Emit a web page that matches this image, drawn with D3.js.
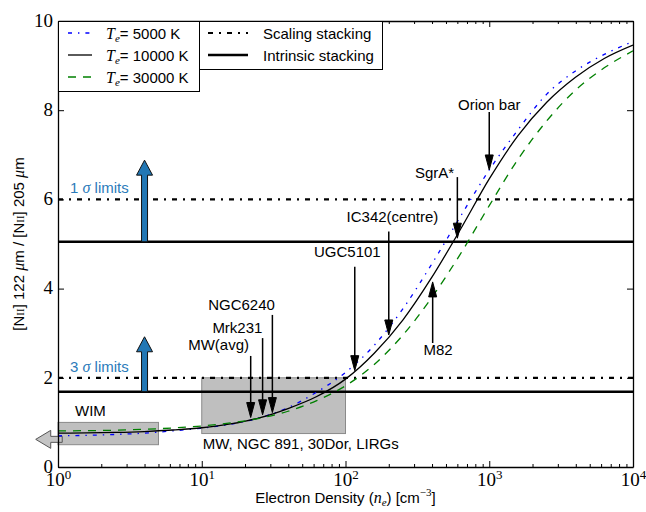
<!DOCTYPE html>
<html><head><meta charset="utf-8">
<script src="https://cdn.jsdelivr.net/npm/d3@7/dist/d3.min.js"></script>
<style>body{margin:0;background:#fff}svg{display:block}</style>
</head><body>
<svg id="c" width="646" height="512"></svg>
<script>
// ---------- data ----------
const density = [1, 1.585, 2.512, 3.981, 6.31, 10, 15.85, 25.12, 39.81, 63.1, 100, 158.5, 251.2, 398.1, 631, 1000, 1585, 2512, 3981, 6310, 10000];
const ratioBlue  = [0.70, 0.71, 0.73, 0.76, 0.81, 0.87, 0.96, 1.10, 1.33, 1.68, 2.12, 2.73, 3.55, 4.55, 5.62, 6.66, 7.56, 8.36, 8.88, 9.25, 9.54];
const ratioBlack = [0.76, 0.765, 0.775, 0.795, 0.83, 0.88, 0.965, 1.10, 1.31, 1.58, 1.97, 2.55, 3.30, 4.25, 5.33, 6.46, 7.43, 8.18, 8.74, 9.16, 9.46];
const ratioGreen = [0.81, 0.815, 0.825, 0.845, 0.875, 0.92, 0.99, 1.09, 1.25, 1.49, 1.82, 2.30, 2.96, 3.80, 4.78, 5.86, 6.90, 7.76, 8.45, 8.95, 9.33];

const seriesNames = ["5000 K", "10000 K", "30000 K"];

const scalingLevels   = [6.0, 2.0];    // scaling stacking (1 sigma, 3 sigma)
const intrinsicLevels = [5.05, 1.69];  // intrinsic stacking
const limitArrowDensity = 4;
const limitArrowTips = [6.88, 2.92];
const limitLabels = ["1", "3"];

const boxDensLo = [1, 10], boxDensHi = [5, 100];
const boxRatioLo = [0.5, 0.75], boxRatioHi = [1.0, 2.0];
const wimArrowDens = [1.07, 0.70], wimArrowRatio = 0.62;

const annotNames   = ["Orion bar", "SgrA*", "IC342(centre)", "UGC5101", "NGC6240", "Mrk231", "MW(avg)", "M82"];
const annotDensity = [1000, 600, 200, 116, 31, 26.5, 21.9, 404];
const annotTip     = [6.66, 5.13, 2.96, 2.16, 1.22, 1.17, 1.11, 4.15];
const annotTail    = [7.96, 6.50, 5.28, 4.49, 3.41, 2.89, 2.49, 2.78];
const annotTextDens = [1000, 416, 212, 103, 18.9, 17.7, 13.1, 440];
const annotTextRatio = [8.0, 6.48, 5.5, 4.70, 3.52, 3.0, 2.62, 2.51];

const xMajor = [1, 10, 100, 1000, 10000];
const xExp = [0, 1, 2, 3, 4];
const yMajor = [0, 2, 4, 6, 8, 10];

// ---------- layout ----------
const svg = d3.select("#c");
const L = 58, R = 633, T = 21, B = 467;
const x = d3.scaleLog().domain([1, 1e4]).range([L, R]);
const y = d3.scaleLinear().domain([0, 10]).range([B, T]);
const SANS = "'Liberation Sans', Arial, sans-serif";
const SERIF2 = "'Liberation Serif', serif";

svg.append("defs").append("clipPath").attr("id", "clip")
  .append("rect").attr("x", L).attr("y", T).attr("width", R - L).attr("height", B - T);

// gray boxes
const boxes = svg.append("g");
boxDensLo.forEach((d, i) => {
  boxes.append("rect")
    .attr("x", x(d)).attr("y", y(boxRatioHi[i]))
    .attr("width", x(boxDensHi[i]) - x(d))
    .attr("height", y(boxRatioLo[i]) - y(boxRatioHi[i]))
    .attr("fill", "#bfbfbf").attr("stroke", "#8a8a8a").attr("stroke-width", 1);
});

// WIM arrow (pointing left)
{
  const x0 = x(wimArrowDens[0]), x1 = x(wimArrowDens[1]), yy = y(wimArrowRatio);
  const hl = 15, sw = 3, hw = 9;
  const p = [[x0, yy - sw], [x1 + hl, yy - sw], [x1 + hl, yy - hw], [x1, yy], [x1 + hl, yy + hw], [x1 + hl, yy + sw], [x0, yy + sw]];
  svg.append("path").attr("d", "M" + p.join("L") + "Z")
    .attr("fill", "#c4c4c4").attr("stroke", "#555").attr("stroke-width", 1);
}

// horizontal stacking lines
const hl = svg.append("g");
scalingLevels.forEach(v => hl.append("line")
  .attr("x1", L).attr("x2", R).attr("y1", y(v)).attr("y2", y(v))
  .attr("stroke", "#000").attr("stroke-width", 2.2).attr("stroke-dasharray", "5,6,2,6"));
intrinsicLevels.forEach(v => hl.append("line")
  .attr("x1", L).attr("x2", R).attr("y1", y(v)).attr("y2", y(v))
  .attr("stroke", "#000").attr("stroke-width", 2.5));

// blue limit arrows
intrinsicLevels.forEach((base, i) => {
  const cx = x(limitArrowDensity), yb = y(base), yt = y(limitArrowTips[i]);
  const sw = 3, hw = 8, hlen = 15;
  const p = [[cx - sw, yb], [cx - sw, yt + hlen], [cx - hw, yt + hlen], [cx, yt], [cx + hw, yt + hlen], [cx + sw, yt + hlen], [cx + sw, yb]];
  svg.append("path").attr("d", "M" + p.join("L") + "Z")
    .attr("fill", "#2277b4").attr("stroke", "#111").attr("stroke-width", 1);
});
// limit labels
scalingLevels.forEach((v, i) => {
  const t = svg.append("text").attr("x", 70).attr("y", y(v) - 6)
    .attr("font-family", SANS).attr("font-size", 15).attr("fill", "#2b7bba");
  t.append("tspan").text(limitLabels[i] + " ");
  t.append("tspan").attr("font-family", SERIF2).attr("font-style", "italic").attr("font-size", 16).text("σ");
  t.append("tspan").text(" limits");
});

// curves
const curves = svg.append("g").attr("clip-path", "url(#clip)");
const line = d3.line().x(d => x(d[0])).y(d => y(d[1])).curve(d3.curveMonotoneX);
const series = [
  {ratio: ratioBlue, color: "#0000ff", dash: "4,6,1.4,6"},
  {ratio: ratioBlack, color: "#000000", dash: null},
  {ratio: ratioGreen, color: "#008000", dash: "8,7"}
];
series.forEach(s => {
  curves.append("path").datum(d3.zip(density, s.ratio)).attr("d", line)
    .attr("fill", "none").attr("stroke", s.color).attr("stroke-width", 1.3)
    .attr("stroke-dasharray", s.dash);
});

// labels for boxes
svg.append("text").attr("x", 75).attr("y", 416).attr("font-family", SANS).attr("font-size", 15).text("WIM");
svg.append("text").attr("x", x(10) + 1).attr("y", 449).attr("font-family", SANS).attr("font-size", 15)
  .text("MW, NGC 891, 30Dor, LIRGs");

// annotations
const ann = svg.append("g");
annotNames.forEach((name, i) => {
  const ax = x(annotDensity[i]), ytip = y(annotTip[i]), ytail = y(annotTail[i]);
  const dir = ytip > ytail ? 1 : -1; // 1 = pointing down
  const hlen = 15, hw = 4;
  const ybase = ytip - dir * hlen;
  ann.append("line").attr("x1", ax).attr("x2", ax).attr("y1", ytail).attr("y2", ybase + dir * 2)
    .attr("stroke", "#000").attr("stroke-width", 1.5);
  ann.append("path").attr("d", `M${ax - hw},${ybase}L${ax},${ytip}L${ax + hw},${ybase}Z`)
    .attr("fill", "#000").attr("stroke", "#000").attr("stroke-width", 1);
  ann.append("text").attr("x", x(annotTextDens[i])).attr("y", y(annotTextRatio[i]))
    .attr("text-anchor", "middle").attr("font-family", SANS).attr("font-size", 15).text(name);
});

// ---------- axes ----------
const minorX = [];
for (let e = 0; e < 4; e++) for (let m = 2; m <= 9; m++) minorX.push(m * Math.pow(10, e));

function styleAxis(g) {
  g.select(".domain").attr("stroke", "#000").attr("stroke-width", 1.3);
  g.selectAll(".tick line").attr("stroke", "#000").attr("stroke-width", 1);
}
const gB = svg.append("g").attr("transform", `translate(0,${B})`)
  .call(d3.axisBottom(x).tickValues(xMajor).tickSizeInner(-6).tickSizeOuter(0).tickPadding(6).tickFormat(() => ""));
styleAxis(gB);
gB.selectAll(".tick text").each(function (d, i) {
  const t = d3.select(this).attr("font-family", SERIF2).attr("font-size", 19).attr("fill", "#000");
  t.append("tspan").text("10");
  t.append("tspan").attr("font-size", 13).attr("dy", "-8").text(xExp[i]);
});
svg.append("g").attr("transform", `translate(0,${B})`)
  .call(d3.axisBottom(x).tickValues(minorX).tickSizeInner(-3).tickSizeOuter(0).tickFormat(""))
  .call(g => { g.select(".domain").remove(); g.selectAll(".tick line").attr("stroke", "#000"); });

const gT = svg.append("g").attr("transform", `translate(0,${T})`)
  .call(d3.axisTop(x).tickValues(xMajor).tickSizeInner(-6).tickSizeOuter(0).tickFormat(""));
styleAxis(gT);
svg.append("g").attr("transform", `translate(0,${T})`)
  .call(d3.axisTop(x).tickValues(minorX).tickSizeInner(-3).tickSizeOuter(0).tickFormat(""))
  .call(g => { g.select(".domain").remove(); g.selectAll(".tick line").attr("stroke", "#000"); });

const gL = svg.append("g").attr("transform", `translate(${L},0)`)
  .call(d3.axisLeft(y).tickValues(yMajor).tickSizeInner(-6).tickSizeOuter(0).tickPadding(5).tickFormat(d3.format("d")));
styleAxis(gL);
gL.selectAll(".tick text").attr("font-family", SERIF2).attr("font-size", 19).attr("fill", "#000").attr("dy", "0.28em");

const gR = svg.append("g").attr("transform", `translate(${R},0)`)
  .call(d3.axisRight(y).tickValues(yMajor).tickSizeInner(-6).tickSizeOuter(0).tickFormat(""));
styleAxis(gR);

// axis titles
{
  const t = svg.append("text").attr("x", 345.5).attr("y", 503).attr("text-anchor", "middle")
    .attr("font-family", SANS).attr("font-size", 15);
  t.append("tspan").text("Electron Density (");
  t.append("tspan").attr("font-family", SERIF2).attr("font-style", "italic").attr("font-size", 16).text("n");
  t.append("tspan").attr("font-family", SERIF2).attr("font-style", "italic").attr("font-size", 11).attr("dy", 3).text("e");
  t.append("tspan").attr("dy", -3).text(") [cm");
  t.append("tspan").attr("font-family", SERIF2).attr("font-size", 11).attr("dy", -7).text("−3");
  t.append("tspan").attr("dy", 7).text("]");
}
{
  const t = svg.append("text").attr("transform", "translate(24,244) rotate(-90)").attr("text-anchor", "middle")
    .attr("font-family", SANS).attr("font-size", 15);
  const part = (s, serif, italic, size) => {
    const sp = t.append("tspan").text(s);
    if (serif) sp.attr("font-family", SERIF2);
    if (italic) sp.attr("font-style", "italic");
    if (size) sp.attr("font-size", size);
  };
  part("[N"); part("II", true, false, 11); part("] 122 "); part("μ", true, true, 16); part("m / [N");
  part("II", true, false, 11); part("] 205 "); part("μ", true, true, 16); part("m");
}

// ---------- legends ----------
const leg = svg.append("g");
leg.append("rect").attr("x", 58.5).attr("y", 21.5).attr("width", 141).attr("height", 70)
  .attr("fill", "#fff").attr("stroke", "#000").attr("stroke-width", 1);
leg.append("rect").attr("x", 199.5).attr("y", 21.5).attr("width", 183).attr("height", 48)
  .attr("fill", "#fff").attr("stroke", "#000").attr("stroke-width", 1);
series.forEach((s, i) => {
  const yy = 33 + i * 22;
  leg.append("line").attr("x1", 68).attr("x2", 92).attr("y1", yy).attr("y2", yy)
    .attr("stroke", s.color).attr("stroke-width", 1.3).attr("stroke-dasharray", s.dash);
  const t = leg.append("text").attr("x", 106).attr("y", yy + 5.5).attr("font-family", SANS).attr("font-size", 15);
  t.append("tspan").attr("font-family", SERIF2).attr("font-style", "italic").attr("font-size", 16).text("T");
  t.append("tspan").attr("font-family", SERIF2).attr("font-style", "italic").attr("font-size", 11).attr("dy", 3).text("e");
  t.append("tspan").attr("dy", -3).text("= " + seriesNames[i]);
});
const leg2 = [["Scaling stacking", "5,6,2,6", 2.2], ["Intrinsic stacking", null, 2.5]];
leg2.forEach((e, i) => {
  const yy = 33 + i * 22;
  leg.append("line").attr("x1", 208).attr("x2", 248).attr("y1", yy).attr("y2", yy)
    .attr("stroke", "#000").attr("stroke-width", e[2]).attr("stroke-dasharray", e[1]);
  leg.append("text").attr("x", 263).attr("y", yy + 5.5).attr("font-family", SANS).attr("font-size", 15).text(e[0]);
});
</script>
</body></html>
